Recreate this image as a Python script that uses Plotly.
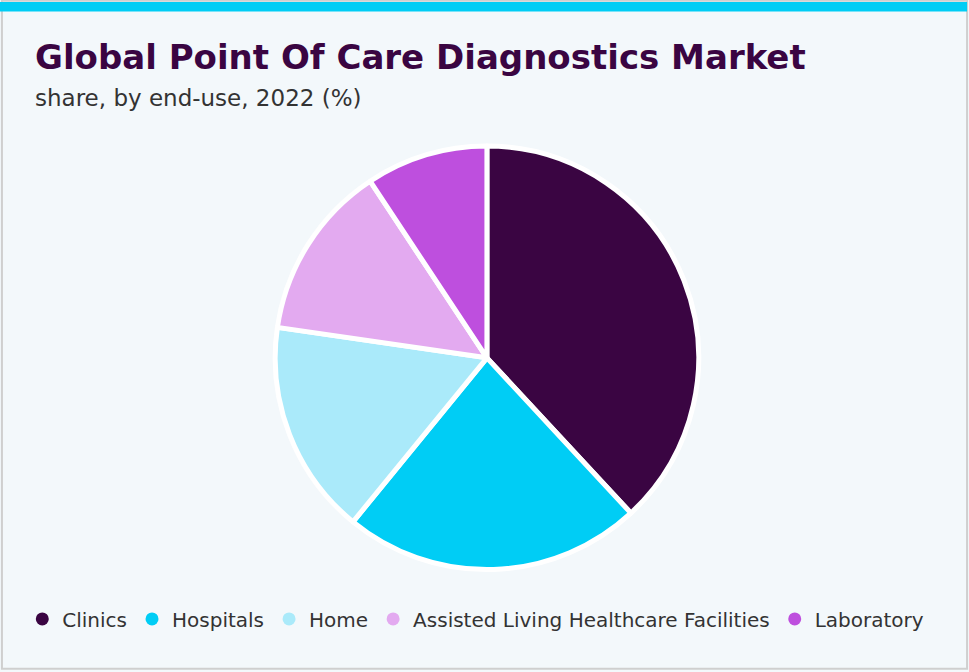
import plotly.graph_objects as go

# end-use share, 2022 (%)
segments = ["Clinics", "Hospitals", "Home", "Assisted Living Healthcare Facilities", "Laboratory"]
shares = [38.1, 22.8, 16.4, 13.4, 9.3]
colors = ["#3a0542", "#00cdf5", "#aaeafa", "#e3aaf0", "#be4fde"]

BG = "#f3f8fb"

fig = go.Figure()

fig.add_trace(
    go.Pie(
        labels=segments,
        values=shares,
        sort=False,
        direction="clockwise",
        rotation=0,
        textinfo="none",
        marker=dict(colors=colors, line=dict(color="white", width=5)),
        domain=dict(x=[0.284, 0.721], y=[0.152, 0.783]),
        showlegend=False,
        hovertemplate="%{label}: %{value}%<extra></extra>",
    )
)

# legend entries with round markers
for name, c in zip(segments, colors):
    fig.add_trace(
        go.Scatter(
            x=[None], y=[None], mode="markers", name=name,
            marker=dict(color=c, size=13, symbol="circle"),
        )
    )

fig.update_layout(
    width=969,
    height=672,
    paper_bgcolor=BG,
    plot_bgcolor=BG,
    margin=dict(l=0, r=0, t=0, b=0),
    xaxis=dict(visible=False),
    yaxis=dict(visible=False),
    legend=dict(
        orientation="h",
        x=0.023, xanchor="left",
        y=0.079, yanchor="middle",
        font=dict(family="DejaVu Sans", size=20, color="#333333"),
        itemwidth=30,
        traceorder="normal",
        bgcolor="rgba(0,0,0,0)",
    ),
    annotations=[
        dict(
            text="<b>Global Point Of Care Diagnostics Market</b>",
            x=0.034, y=0.915, xref="paper", yref="paper",
            xanchor="left", yanchor="middle", showarrow=False,
            font=dict(family="DejaVu Sans", size=34, color="#3a0542"),
        ),
        dict(
            text="share, by end-use, 2022 (%)",
            x=0.034, y=0.854, xref="paper", yref="paper",
            xanchor="left", yanchor="middle", showarrow=False,
            font=dict(family="DejaVu Sans", size=23, color="#333333"),
        ),
    ],
    shapes=[
        dict(type="rect", xref="paper", yref="paper", x0=0.002, x1=0.998, y0=0.005, y1=0.999,
             line=dict(color="#cfcfcf", width=2), fillcolor="rgba(0,0,0,0)", layer="above"),
        dict(type="rect", xref="paper", yref="paper", x0=0.0, x1=0.998, y0=0.983, y1=0.997,
             line=dict(width=0), fillcolor="#00cdf5", layer="above"),
    ],
)

fig.write_html(
    "out.html",
    config={"displayModeBar": False},
    post_script="document.body.style.margin='0';",
)
